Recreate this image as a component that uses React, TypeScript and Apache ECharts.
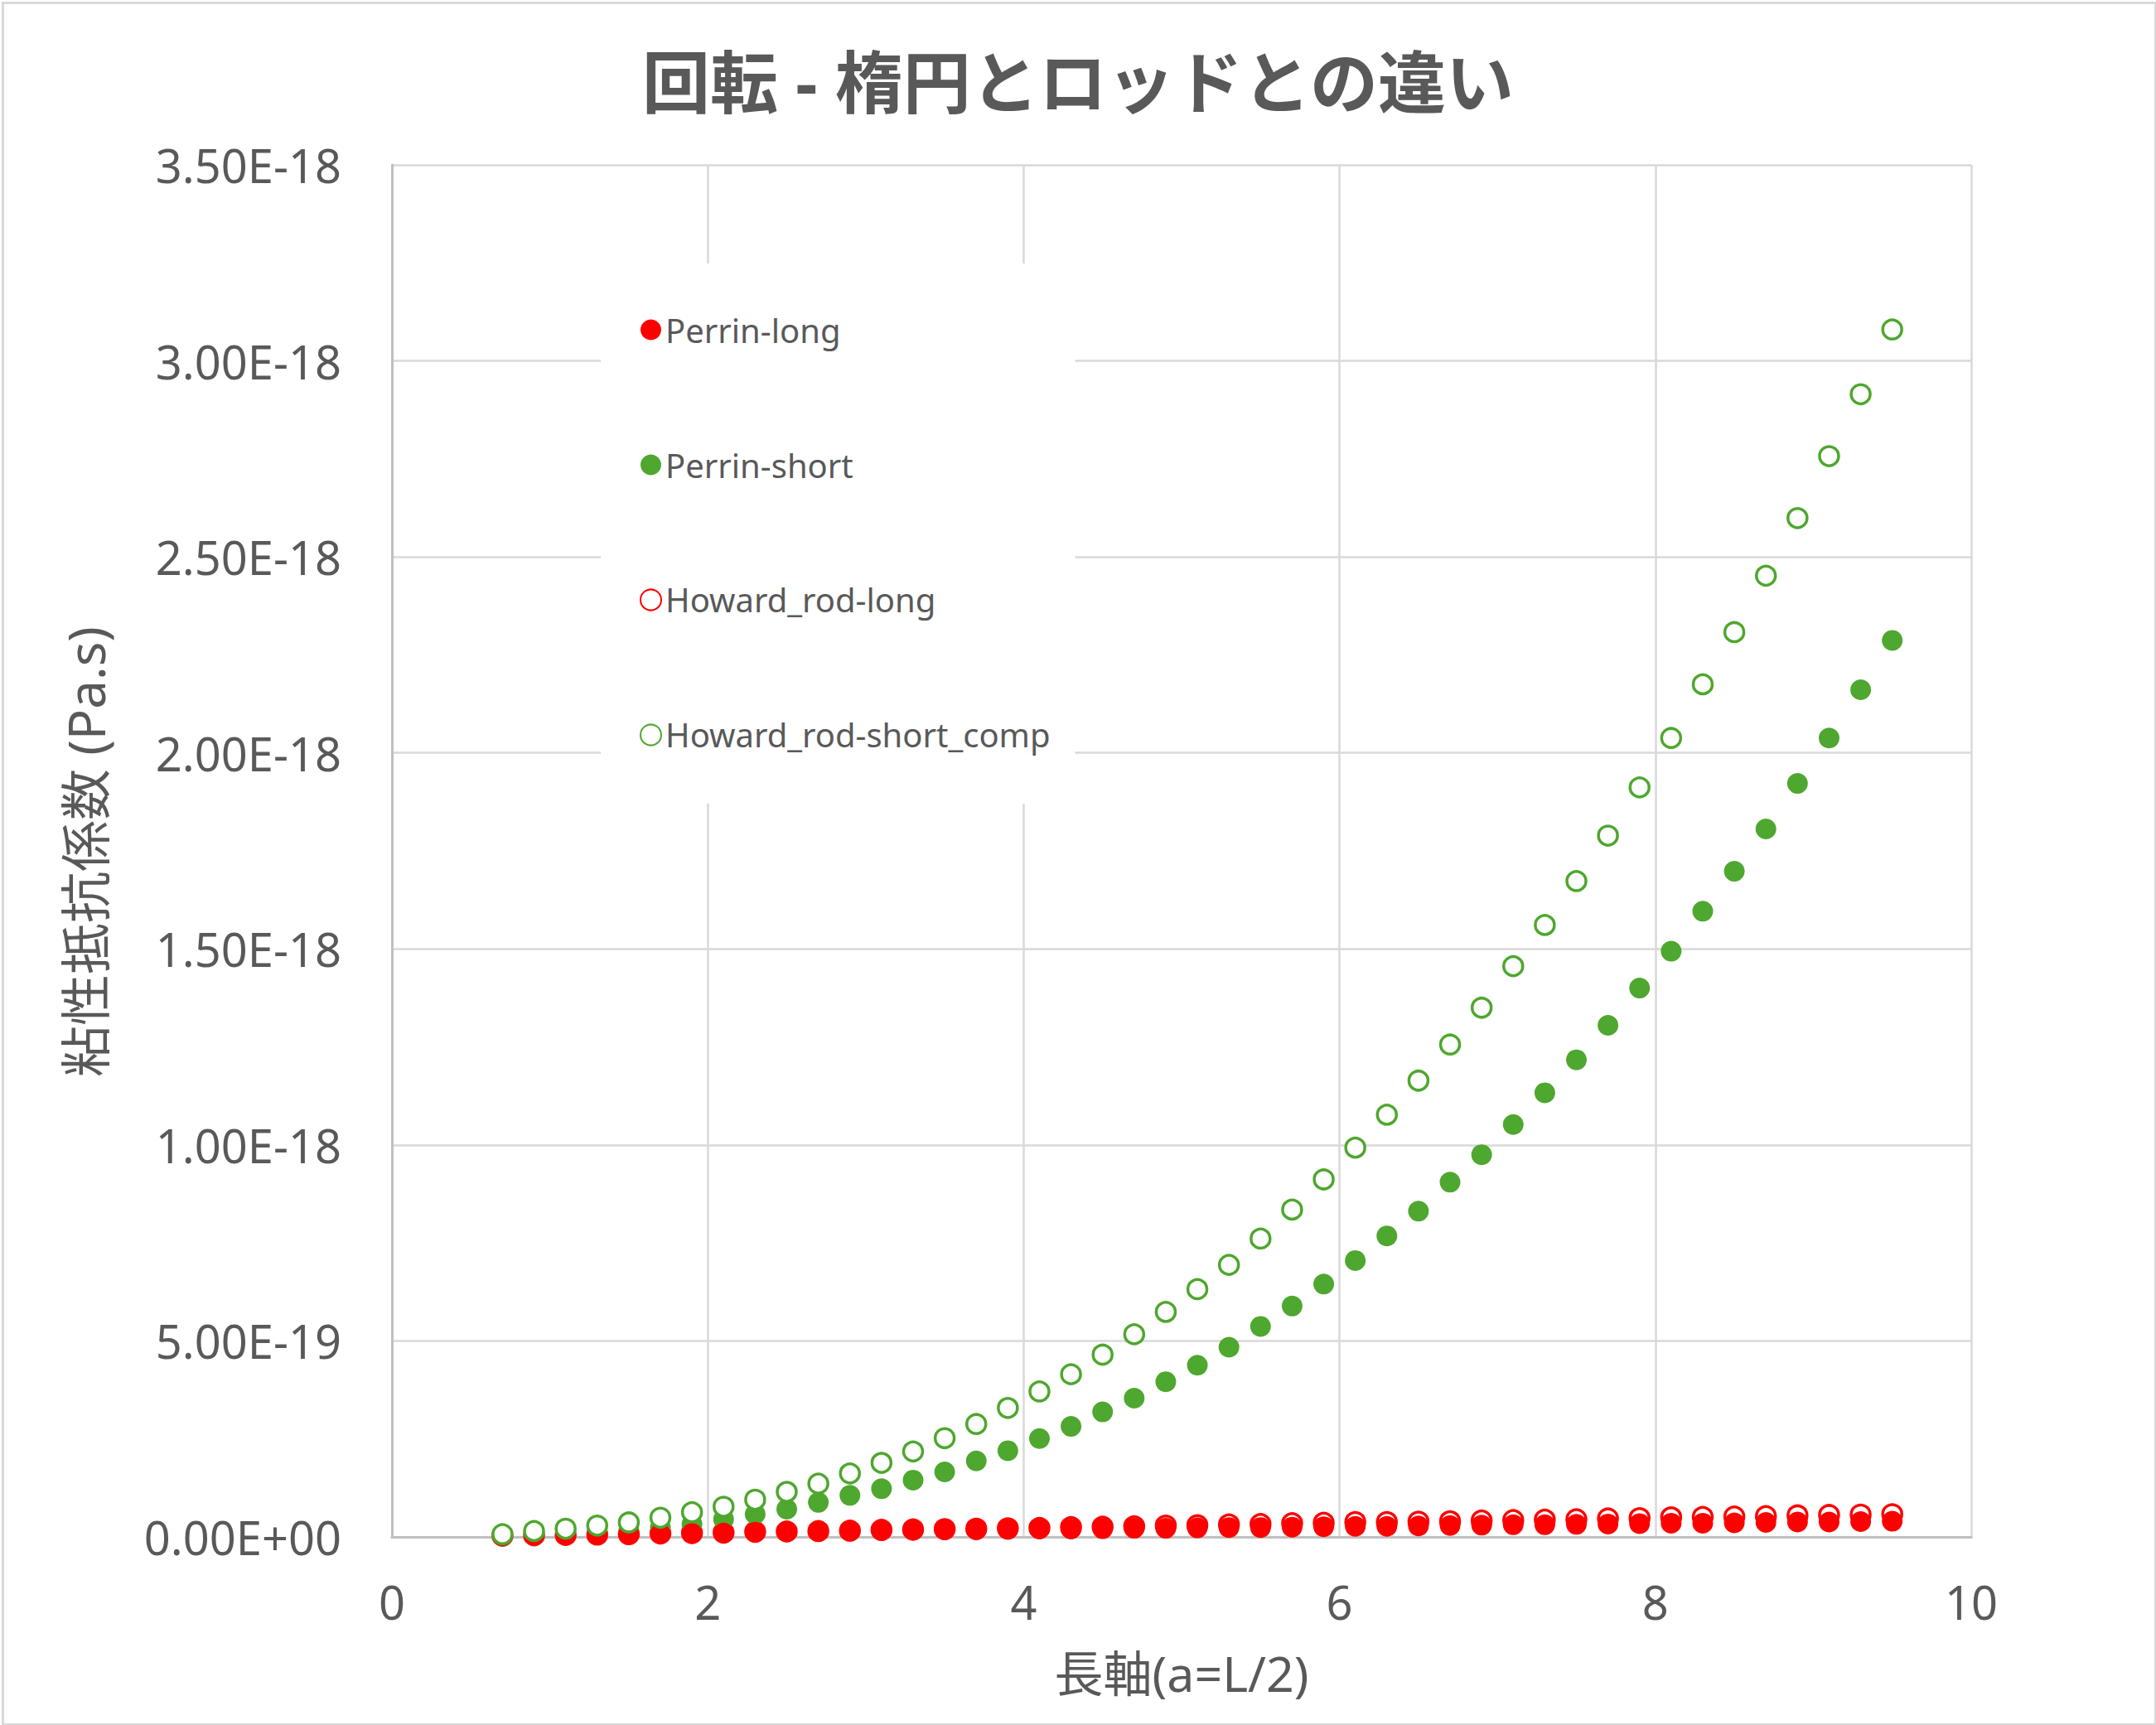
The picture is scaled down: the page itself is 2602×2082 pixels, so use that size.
import React, { useEffect, useRef } from "react";
import * as echarts from "echarts";

// x: 長軸 a
const xValues = [
  0.7, 0.9, 1.1, 1.3, 1.5, 1.7, 1.9, 2.1, 2.3, 2.5, 2.7, 2.9, 3.1, 3.3, 3.5,
  3.7, 3.9, 4.1, 4.3, 4.5, 4.7, 4.9, 5.1, 5.3, 5.5, 5.7, 5.9, 6.1, 6.3, 6.5,
  6.7, 6.9, 7.1, 7.3, 7.5, 7.7, 7.9, 8.1, 8.3, 8.5, 8.7, 8.9, 9.1, 9.3, 9.5,
];

// values in units of 1e-18 Pa.s
const perrinLong = [
  0.003, 0.004, 0.005, 0.006, 0.007, 0.008, 0.009, 0.010, 0.012, 0.013, 0.014,
  0.015, 0.016, 0.017, 0.018, 0.018, 0.019, 0.020, 0.020, 0.021, 0.022, 0.022,
  0.023, 0.024, 0.024, 0.025, 0.026, 0.027, 0.027, 0.028, 0.029, 0.030, 0.031,
  0.031, 0.032, 0.033, 0.034, 0.035, 0.035, 0.036, 0.037, 0.038, 0.038, 0.039,
  0.040,
];

const perrinShort = [
  0.002, 0.004, 0.007, 0.011, 0.017, 0.024, 0.033, 0.045, 0.058, 0.071, 0.088,
  0.106, 0.123, 0.145, 0.166, 0.194, 0.220, 0.251, 0.282, 0.319, 0.354, 0.396,
  0.438, 0.484, 0.537, 0.589, 0.645, 0.705, 0.768, 0.831, 0.905, 0.975, 1.052,
  1.133, 1.217, 1.305, 1.4, 1.494, 1.596, 1.698, 1.806, 1.922, 2.038, 2.161,
  2.287,
];

const howardLong = [
  0.003, 0.004, 0.005, 0.006, 0.007, 0.009, 0.010, 0.011, 0.013, 0.014, 0.015,
  0.016, 0.018, 0.019, 0.020, 0.021, 0.022, 0.023, 0.025, 0.026, 0.027, 0.029,
  0.030, 0.032, 0.033, 0.035, 0.036, 0.038, 0.038, 0.039, 0.040, 0.042, 0.043,
  0.044, 0.045, 0.047, 0.048, 0.050, 0.051, 0.052, 0.053, 0.055, 0.056, 0.057,
  0.058,
];

const howardShortComp = [
  0.007, 0.015, 0.021, 0.029, 0.037, 0.049, 0.063, 0.077, 0.095, 0.115, 0.136,
  0.162, 0.189, 0.218, 0.252, 0.288, 0.329, 0.371, 0.415, 0.465, 0.517, 0.574,
  0.632, 0.694, 0.761, 0.835, 0.912, 0.993, 1.077, 1.164, 1.256, 1.35, 1.456,
  1.561, 1.673, 1.789, 1.912, 2.038, 2.175, 2.308, 2.452, 2.599, 2.757, 2.915,
  3.08,
];

const seriesNames = [
  "Perrin-long",
  "Perrin-short",
  "Howard_rod-long",
  "Howard_rod-short_comp",
];

const titleText = "回転 - 楕円とロッドとの違い";
const xTitle = "長軸(a=L/2)";
const yTitle = "粘性抵抗係数 (Pa.s)";
const UNIT = 1e-18;

const RED = "#FF0000";
const GREEN = "#4EA72E";
const TEXT = "#595959";
const FONT = "'Noto Sans', 'Noto Sans CJK JP', sans-serif";

function fmtSci(v: number): string {
  const s = (v * UNIT).toExponential(2);
  const [m, e] = s.split("e");
  const sign = e[0] === "-" ? "-" : "+";
  const digits = e.replace(/[+-]/, "").padStart(2, "0");
  return m + "E" + sign + digits;
}

function pairs(ys: number[]) {
  return xValues.map((x, i) => [x, ys[i]]);
}

export default function App() {
  const ref = useRef<HTMLDivElement>(null);

  useEffect(() => {
    document.body.style.margin = "0";
    if (!ref.current) return;
    const chart = echarts.init(ref.current, undefined, { renderer: "svg" });

    const filled = (name: string, color: string, data: number[]) => ({
      name,
      type: "scatter",
      symbol: "circle",
      symbolSize: 25,
      data: pairs(data),
      itemStyle: { color, opacity: 1 },
    });
    const open = (name: string, color: string, data: number[]) => ({
      name,
      type: "scatter",
      symbol: "circle",
      symbolSize: 23,
      data: pairs(data),
      itemStyle: {
        color: "#ffffff",
        borderColor: color,
        borderWidth: 3.5,
        opacity: 1,
      },
    });

    chart.setOption({
      animation: false,
      backgroundColor: "#ffffff",
      title: {
        text: titleText,
        left: "center",
        top: 52,
        textStyle: {
          fontSize: 82,
          fontWeight: "bold",
          color: TEXT,
          fontFamily: FONT,
        },
      },
      legend: {
        orient: "vertical",
        left: 725,
        top: 318,
        data: seriesNames,
        backgroundColor: "#ffffff",
        padding: [60, 30, 63, 47],
        itemWidth: 25,
        itemHeight: 25,
        itemGap: 123,
        icon: "circle",
        textStyle: { fontSize: 40, color: TEXT, fontFamily: FONT },
      },
      grid: { left: 473, right: 223, top: 199, bottom: 227 },
      xAxis: {
        type: "value",
        min: 0,
        max: 10,
        interval: 2,
        axisLine: { show: true, lineStyle: { color: "#bfbfbf", width: 3 } },
        axisTick: { show: false },
        axisLabel: {
          fontSize: 56,
          color: TEXT,
          margin: 50,
          fontFamily: FONT,
        },
        splitLine: { show: true, lineStyle: { color: "#d9d9d9", width: 2.5 } },
      },
      yAxis: {
        type: "value",
        min: 0,
        max: 3.5,
        interval: 0.5,
        axisLine: { show: true, lineStyle: { color: "#bfbfbf", width: 3 } },
        axisTick: { show: false },
        axisLabel: {
          fontSize: 56,
          color: TEXT,
          margin: 61,
          fontFamily: FONT,
          formatter: (v: number) => fmtSci(v),
        },
        splitLine: { show: true, lineStyle: { color: "#d9d9d9", width: 2.5 } },
      },
      graphic: [
        {
          type: "rect",
          left: 1,
          top: 1,
          shape: { width: 2598, height: 2078 },
          style: { fill: "none", stroke: "#d9d9d9", lineWidth: 3 },
          silent: true,
          z: 100,
        },
        {
          type: "text",
          x: 1426,
          y: 2019,
          style: {
            text: xTitle,
            fontSize: 59,
            fill: TEXT,
            fontFamily: FONT,
            textAlign: "center",
            textVerticalAlign: "middle",
          },
        },
        {
          type: "text",
          x: 103,
          y: 1028,
          rotation: Math.PI / 2,
          style: {
            text: yTitle,
            fontSize: 62,
            fill: TEXT,
            fontFamily: FONT,
            textAlign: "center",
            textVerticalAlign: "middle",
          },
        },
      ],
      series: [
        open(seriesNames[2], RED, howardLong),
        filled(seriesNames[1], GREEN, perrinShort),
        filled(seriesNames[0], RED, perrinLong),
        open(seriesNames[3], GREEN, howardShortComp),
      ],
    });

    return () => chart.dispose();
  }, []);

  return <div ref={ref} style={{ width: 2602, height: 2082 }} />;
}
